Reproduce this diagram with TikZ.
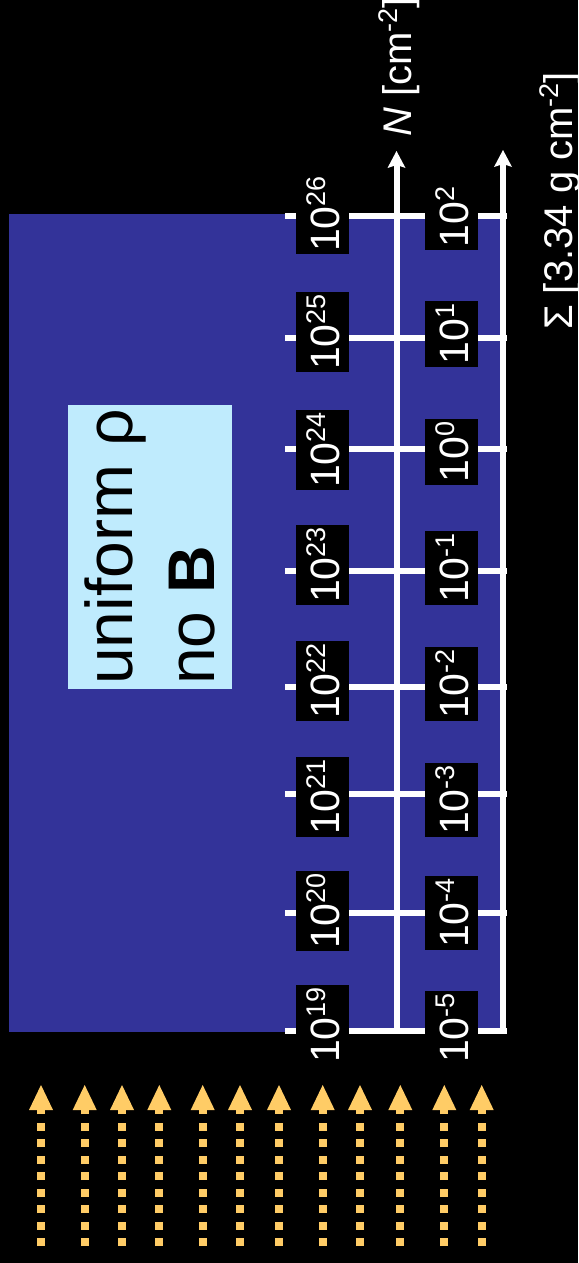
\documentclass[tikz,border=0pt]{standalone}
\usepackage{fontspec}
\setmainfont{Liberation Sans}
\usetikzlibrary{arrows.meta}
\definecolor{bgblue}{RGB}{51,51,153}
\definecolor{paleblue}{RGB}{191,235,253}
\definecolor{beam}{RGB}{255,204,102}
\newcommand\myexp[2]{#1\raisebox{14pt}{\fontsize{27}{27}\selectfont #2}}
\begin{document}
\begin{tikzpicture}[x=1pt,y=-1pt,
  ticklab/.style={fill=black,text=white,rotate=90,font=\fontsize{41}{41}\selectfont,inner xsep=2.5pt,inner ysep=0pt,text height=43pt,text depth=10pt},
  tickline/.style={draw=white,line width=6pt},
  axisline/.style={draw=white,line width=6pt,-{Stealth[width=18pt,length=17pt,inset=3pt,line width=0pt]}},
  axlab/.style={text=white,rotate=90,font=\fontsize{40}{40}\selectfont,inner sep=0pt,anchor=base west},
  beamarrow/.style={draw=beam,line width=8pt,dash pattern=on 7.6pt off 8.9pt,-{Triangle[width=24pt,length=25pt,line width=0pt]}},
]
\useasboundingbox (0,0) rectangle (578,1263);
\fill[black] (0,0) rectangle (578,1263);
\fill[bgblue] (9,214) rectangle (500,1032);
\node[fill=paleblue, rotate=90, minimum width=284pt, minimum height=164pt, align=left, font=\fontsize{66}{82}\selectfont, inner sep=0pt] (model) at (150,547) {uniform ρ\\no \textbf{B}};
% ticks
\foreach \y in {215.7,337.7,449.3,571,687,794.3,912.7,1030.7}
  \draw[tickline] (285,\y) -- (507,\y);
% axes
\coordinate (nb) at (396.5,1031);
\coordinate (nt) at (396.5,151);
\coordinate (sb) at (503,1031);
\coordinate (st) at (503,150);
\draw[axisline] (nb) -- (nt);
\draw[axisline] (sb) -- (st);
% N labels
\node[ticklab] (n26) at (322.5,214) {\myexp{10}{26}};
\node[ticklab] (n25) at (322.5,332) {\myexp{10}{25}};
\node[ticklab] (n24) at (322.5,450) {\myexp{10}{24}};
\node[ticklab] (n23) at (322.5,565) {\myexp{10}{23}};
\node[ticklab] (n22) at (322.5,681) {\myexp{10}{22}};
\node[ticklab] (n21) at (322.5,797) {\myexp{10}{21}};
\node[ticklab] (n20) at (322.5,911) {\myexp{10}{20}};
\node[ticklab] (n19) at (322.5,1025) {\myexp{10}{19}};
% Sigma labels
\node[ticklab] (s2) at (451.5,217) {\myexp{10}{2}};
\node[ticklab] (s1) at (451.5,334) {\myexp{10}{1}};
\node[ticklab] (s0) at (451.5,452) {\myexp{10}{0}};
\node[ticklab] (sm1) at (451.5,568) {\myexp{10}{-1}};
\node[ticklab] (sm2) at (451.5,684) {\myexp{10}{-2}};
\node[ticklab] (sm3) at (451.5,800) {\myexp{10}{-3}};
\node[ticklab] (sm4) at (451.5,913) {\myexp{10}{-4}};
\node[ticklab] (sm5) at (451.5,1028) {\myexp{10}{-5}};
% axis titles
\node[axlab] (nlab) at (411,137) {\textit{N} [cm\raisebox{14pt}{\fontsize{27}{27}\selectfont -2}]};
\node[axlab] (slab) at (572,330) {Σ [3.34 g cm\raisebox{14pt}{\fontsize{27}{27}\selectfont -2}]};
% incoming beams
\foreach \x [count=\i] in {41,84.7,122,159.3,202.7,240,279,322.7,360,400.3,444.3,481.7} {
  \coordinate (b\i s) at (\x,1246);
  \coordinate (b\i e) at (\x,1085);
  \draw[beamarrow] (b\i s) -- (b\i e);
}
\end{tikzpicture}
\end{document}
